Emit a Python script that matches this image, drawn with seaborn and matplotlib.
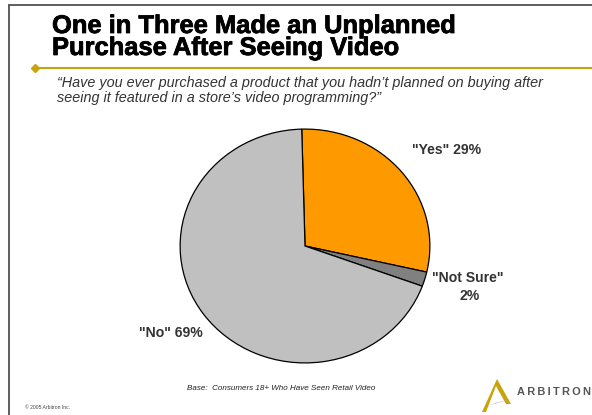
import matplotlib
matplotlib.use("Agg")
import matplotlib.pyplot as plt
import seaborn as sns
from matplotlib.patches import Polygon
from matplotlib.lines import Line2D
import matplotlib.patheffects as pe

categories = ["Yes", "Not Sure", "No"]
values = [29, 2, 69]
colors = ["#FF9900", "#808080", "#C0C0C0"]

title_lines = ["One in Three Made an Unplanned", "Purchase After Seeing Video"]
subtitle_lines = ["\u201cHave you ever purchased a product that you hadn\u2019t planned on buying after",
                  "seeing it featured in a store\u2019s video programming?\u201d"]
base_text = "Base:  Consumers 18+ Who Have Seen Retail Video"
copyright_text = "\u00a9 2005 Arbitron Inc."
logo_text = "ARBITRON"

sns.set_theme(style="white")
plt.rcParams["font.family"] = ["Liberation Sans", "DejaVu Sans"]

W, H = 592, 415
fig = plt.figure(figsize=(W / 100, H / 100), dpi=100)
fig.patch.set_facecolor("white")

def fx(x):
    return x / W

def fy(y):
    return 1 - y / H

def ps(px):
    return px * 72 / 100

# border
fig.add_artist(Line2D([fx(9), fx(9)], [fy(5), fy(415)], color="#505050", lw=1.3))
fig.add_artist(Line2D([fx(9), fx(592)], [fy(5), fy(5)], color="#505050", lw=1.3))

# title
heavy = [pe.withStroke(linewidth=0.55, foreground="black")]
fig.text(fx(52), fy(33), title_lines[0], fontsize=ps(25.5), fontweight="bold", color="black",
         va="baseline", ha="left", path_effects=heavy)
fig.text(fx(52), fy(55), title_lines[1], fontsize=ps(25.5), fontweight="bold", color="black",
         va="baseline", ha="left", path_effects=heavy)

# gold rule with diamond
fig.add_artist(Line2D([fx(34), fx(592)], [fy(68.5), fy(68.5)], color="#C9A30A", lw=1.5))
fig.add_artist(Line2D([fx(35)], [fy(68.5)], marker="D", markersize=4.5, color="#C9A30A", lw=0))

# subtitle
fig.text(fx(57), fy(87), subtitle_lines[0], fontsize=ps(14.4), style="italic", color="#333333",
         va="baseline", ha="left")
fig.text(fx(57), fy(102), subtitle_lines[1], fontsize=ps(14.4), style="italic", color="#333333",
         va="baseline", ha="left")

# pie (elliptical as in the reference)
cx, cy, rx, ry = 305, 246, 125.5, 117.5
ax = fig.add_axes([fx(cx - rx), fy(cy + ry), (2 * rx) / W, (2 * ry) / H])
ax.pie(values, colors=colors, startangle=91.5, counterclock=False,
       wedgeprops=dict(edgecolor="black", linewidth=0.9))
ax.set_aspect("auto")
ax.set_xlim(-1.005, 1.005)
ax.set_ylim(-1.005, 1.005)
ax.axis("off")

lab_kw = dict(fontsize=ps(14), fontweight="bold", color="#333333")
fig.text(fx(447), fy(150), f"\"{categories[0]}\" {values[0]}%", ha="center", va="center", **lab_kw)
fig.text(fx(468), fy(278), f"\"{categories[1]}\"", ha="center", va="center", **lab_kw)
fig.text(fx(470), fy(296), f"{values[1]}%", ha="center", va="center", **lab_kw)
fig.text(fx(171), fy(333), f"\"{categories[2]}\" {values[2]}%", ha="center", va="center", **lab_kw)

# base note
fig.text(fx(281), fy(388), base_text, fontsize=ps(8), style="italic", color="#222222",
         ha="center", va="center")
fig.text(fx(25), fy(407), copyright_text, fontsize=ps(5), color="#444444",
         ha="left", va="center")

# logo
gold = "#C9A30A"
fig.add_artist(Polygon([[fx(482), fy(412)], [fx(497), fy(379)], [fx(511), fy(404)],
                        [fx(506), fy(404)], [fx(496), fy(386)], [fx(486), fy(412)]],
                       closed=True, facecolor=gold, edgecolor="none", transform=fig.transFigure))
fig.add_artist(Polygon([[fx(490), fy(405)], [fx(515), fy(398)], [fx(495), fy(403)]],
                       closed=True, facecolor="#B0B0B8", edgecolor="none", transform=fig.transFigure))
fig.text(fx(517), fy(392), "\u2009".join(logo_text), fontsize=ps(11), fontweight="bold",
         color="#555555", ha="left", va="center")

fig.savefig("out.png", dpi=100, facecolor="white")
